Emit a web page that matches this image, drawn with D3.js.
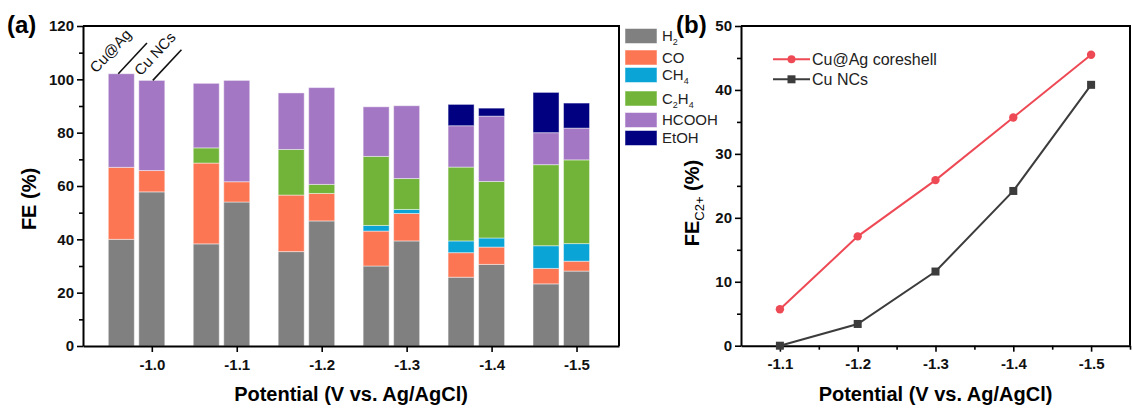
<!DOCTYPE html>
<html>
<head>
<meta charset="utf-8">
<script src="https://cdn.jsdelivr.net/npm/d3@7"></script>
<style>
  html, body { margin: 0; padding: 0; background: #fff; }
  svg { display: block; font-family: "Liberation Sans", Arial, sans-serif; }
  .bold { font-weight: bold; }
</style>
</head>
<body>
<svg id="chart" width="1133" height="408"></svg>
<script>
// ---- Panel (a): product distribution (FE %) per applied potential ----
const potentials = [-1.0, -1.1, -1.2, -1.3, -1.4, -1.5];
const products = ["H2", "CO", "CH4", "C2H4", "HCOOH", "EtOH"];
const samples = ["Cu@Ag", "Cu NCs"];

// Cu@Ag core-shell
const cuAgH2    = [40.0, 38.3, 35.4, 30.0, 25.8, 23.3];
const cuAgCO    = [27.0, 30.3, 21.2, 13.1,  9.2,  5.8];
const cuAgCH4   = [ 0.0,  0.0,  0.0,  2.1,  4.4,  8.5];
const cuAgC2H4  = [ 0.0,  5.7, 17.1, 25.9, 27.7, 30.4];
const cuAgHCOOH = [35.1, 24.2, 21.2, 18.6, 15.5, 12.0];
const cuAgEtOH  = [ 0.0,  0.0,  0.0,  0.0,  8.0, 15.1];

// Cu NCs
const cuH2    = [57.8, 54.0, 46.9, 39.4, 30.6, 28.1];
const cuCO    = [ 8.0,  7.6, 10.3, 10.3,  6.5,  3.7];
const cuCH4   = [ 0.0,  0.0,  0.0,  1.5,  3.4,  6.6];
const cuC2H4  = [ 0.0,  0.0,  3.4, 11.6, 21.2, 31.4];
const cuHCOOH = [33.8, 38.0, 36.3, 27.3, 24.5, 11.9];
const cuEtOH  = [ 0.0,  0.0,  0.0,  0.0,  3.0,  9.4];

const feTicks = [0, 20, 40, 60, 80, 100, 120];

// ---- Panel (b): C2+ Faradaic efficiency ----
const c2Potentials = [-1.1, -1.2, -1.3, -1.4, -1.5];
const cuAgC2 = [5.7, 17.1, 25.9, 35.7, 45.5];
const cuC2   = [0.0, 3.4, 11.6, 24.2, 40.8];
const c2Ticks = [0, 10, 20, 30, 40, 50];

// ---- styling ----
const productColors = {
  H2: "#808080", CO: "#FC7654", CH4: "#0AA4D6",
  C2H4: "#72B43A", HCOOH: "#A377C3", EtOH: "#000080"
};
const productLabels = {
  H2: [["H", 0], ["2", 1]],
  CO: [["CO", 0]],
  CH4: [["CH", 0], ["4", 1]],
  C2H4: [["C", 0], ["2", 1], ["H", 0], ["4", 1]],
  HCOOH: [["HCOOH", 0]],
  EtOH: [["EtOH", 0]]
};
const lineColors = { cuAg: "#EE4A55", cu: "#3C3C3C" };
const fmt1 = d => d.toFixed(1);

const svg = d3.select("#chart");

// build stacked rows
const cuAgSeries = { H2: cuAgH2, CO: cuAgCO, CH4: cuAgCH4, C2H4: cuAgC2H4, HCOOH: cuAgHCOOH, EtOH: cuAgEtOH };
const cuSeries   = { H2: cuH2, CO: cuCO, CH4: cuCH4, C2H4: cuC2H4, HCOOH: cuHCOOH, EtOH: cuEtOH };
const rows = [];
potentials.forEach((p, i) => {
  [[samples[0], cuAgSeries], [samples[1], cuSeries]].forEach(([s, ser]) => {
    const r = { potential: p, sample: s };
    products.forEach(k => r[k] = ser[k][i]);
    rows.push(r);
  });
});
const stacked = d3.stack().keys(products)(rows);

// ================= Panel (a) =================
const A = { left: 83, right: 619, top: 26, bottom: 346 };
const xA = d3.scaleLinear().domain([-0.919, -1.55]).range([A.left, A.right]);
const yA = d3.scaleLinear().domain([0, 120]).range([A.bottom, A.top]);
const barW = 26, pairOffset = 30.5;
const barX = d => xA(d.potential) - (d.sample === samples[0] ? pairOffset : 0) - barW / 2;

const gA = svg.append("g");
stacked.forEach(layer => {
  gA.append("g").selectAll("rect")
    .data(layer.filter(d => d[1] - d[0] > 0))
    .join("rect")
    .attr("x", d => barX(d.data))
    .attr("y", d => yA(d[1]))
    .attr("width", barW)
    .attr("height", d => yA(d[0]) - yA(d[1]))
    .attr("fill", productColors[layer.key])
    .attr("stroke", "#ffffff")
    .attr("stroke-opacity", 0.45)
    .attr("stroke-width", 1);
});

// axes (a)
const axA = gA.append("g").attr("transform", `translate(0,${A.bottom})`)
  .call(d3.axisBottom(xA).tickValues(potentials).tickFormat(fmt1).tickSize(6).tickSizeOuter(0).tickPadding(7));
const ayMinorA = gA.append("g").attr("transform", `translate(${A.left},0)`)
  .call(d3.axisLeft(yA).tickValues(d3.range(10, 120, 20)).tickSize(4).tickFormat(""));
const ayA = gA.append("g").attr("transform", `translate(${A.left},0)`)
  .call(d3.axisLeft(yA).tickValues(feTicks).tickSize(6).tickSizeOuter(0).tickPadding(3));
ayMinorA.select(".domain").remove();
[axA, ayA, ayMinorA].forEach(g => {
  g.selectAll(".domain").attr("stroke", "#000").attr("stroke-width", 2);
  g.selectAll(".tick line").attr("stroke", "#000").attr("stroke-width", 1.6);
  g.selectAll("text").attr("class", "bold").attr("font-size", 15).attr("fill", "#111")
    .attr("font-family", "'Liberation Sans', Arial, sans-serif");
});
// frame top / right
gA.append("path")
  .attr("d", `M${A.left},${A.top}H${A.right}V${A.bottom}`)
  .attr("fill", "none").attr("stroke", "#000").attr("stroke-width", 2);

// axis titles (a)
gA.append("text").attr("class", "bold").attr("font-size", 20)
  .attr("x", (A.left + A.right) / 2).attr("y", 401).attr("text-anchor", "middle")
  .text("Potential (V vs. Ag/AgCl)");
gA.append("text").attr("class", "bold").attr("font-size", 20)
  .attr("transform", `translate(36,199) rotate(-90)`).attr("text-anchor", "middle")
  .text("FE (%)");
svg.append("text").attr("class", "bold").attr("font-size", 24)
  .attr("x", 7).attr("y", 33).text("(a)");

// sample annotations above the first pair of bars: a slanted leader line
// rising from each bar top, with the sample name written parallel to it
const tagAngle = -47;
const tagTextOffset = { "Cu@Ag": [-25, 0], "Cu NCs": [-11, -4] };
const tagLineStart = { "Cu@Ag": -3, "Cu NCs": 1 };
const rad = tagAngle * Math.PI / 180;
rows.filter(r => r.potential === potentials[0]).forEach(r => {
  const total = d3.sum(products, k => r[k]);
  const cx = barX(r) + barW / 2;
  const cy = yA(total);
  const lx = cx + tagLineStart[r.sample];
  const len = 42;
  gA.append("line")
    .attr("x1", lx).attr("y1", cy)
    .attr("x2", lx + len * Math.cos(rad)).attr("y2", cy + len * Math.sin(rad))
    .attr("stroke", "#111").attr("stroke-width", 1.6);
  const [ox, oy] = tagTextOffset[r.sample];
  gA.append("text").attr("font-size", 15).attr("fill", "#111")
    .attr("transform", `translate(${cx + ox},${cy + oy}) rotate(${tagAngle})`)
    .text(r.sample);
});

// legend (a)
const legendRowsY = [28.5, 50, 67.5, 91, 112.5, 130.5];
const lg = svg.append("g").attr("transform", "translate(625,0)");
products.forEach((k, i) => {
  const y0 = legendRowsY[i];
  lg.append("rect").attr("x", 0).attr("y", y0).attr("width", 32).attr("height", 15)
    .attr("fill", productColors[k]).attr("stroke", "#fff").attr("stroke-opacity", 0.5);
  const t = lg.append("text").attr("x", 37).attr("y", y0 + 12.5).attr("font-size", 15).attr("fill", "#222");
  productLabels[k].forEach(([s, sub]) => {
    t.append("tspan").text(s)
      .attr("font-size", sub ? 9 : 15)
      .attr("dy", sub ? 4 : (t.selectAll("tspan").size() > 1 ? -4 : 0));
  });
});

// ================= Panel (b) =================
const B = { left: 741, right: 1130, top: 26, bottom: 345.7 };
const xB = d3.scaleLinear().domain([-1.05, -1.55]).range([B.left, B.right]);
const yB = d3.scaleLinear().domain([0, 50]).range([B.bottom, B.top]);
const gB = svg.append("g");

const axMinorB = gB.append("g").attr("transform", `translate(0,${B.bottom})`)
  .call(d3.axisBottom(xB).tickValues([-1.15, -1.25, -1.35, -1.45, -1.55]).tickSize(4).tickFormat(""));
const axB = gB.append("g").attr("transform", `translate(0,${B.bottom})`)
  .call(d3.axisBottom(xB).tickValues(c2Potentials).tickFormat(fmt1).tickSize(6).tickSizeOuter(0).tickPadding(7));
const ayMinorB = gB.append("g").attr("transform", `translate(${B.left},0)`)
  .call(d3.axisLeft(yB).tickValues(d3.range(5, 50, 10)).tickSize(4).tickFormat(""));
const ayB = gB.append("g").attr("transform", `translate(${B.left},0)`)
  .call(d3.axisLeft(yB).tickValues(c2Ticks).tickSize(6).tickSizeOuter(0).tickPadding(3));
axMinorB.select(".domain").remove();
ayMinorB.select(".domain").remove();
[axB, ayB, axMinorB, ayMinorB].forEach(g => {
  g.selectAll(".domain").attr("stroke", "#000").attr("stroke-width", 2);
  g.selectAll(".tick line").attr("stroke", "#000").attr("stroke-width", 1.6);
  g.selectAll("text").attr("class", "bold").attr("font-size", 15).attr("fill", "#111")
    .attr("font-family", "'Liberation Sans', Arial, sans-serif");
});
gB.append("path")
  .attr("d", `M${B.left},${B.top}H${B.right}V${B.bottom}`)
  .attr("fill", "none").attr("stroke", "#000").attr("stroke-width", 2);

const line = d3.line().x(d => xB(d[0])).y(d => yB(d[1]));
const seriesB = [
  { name: "Cu@Ag coreshell", vals: cuAgC2, color: lineColors.cuAg, marker: "circle" },
  { name: "Cu NCs", vals: cuC2, color: lineColors.cu, marker: "square" }
];
seriesB.forEach(s => {
  const pts = c2Potentials.map((p, i) => [p, s.vals[i]]);
  gB.append("path").datum(pts).attr("d", line)
    .attr("fill", "none").attr("stroke", s.color).attr("stroke-width", 2);
  const m = gB.append("g").selectAll("g").data(pts).join("g")
    .attr("transform", d => `translate(${xB(d[0])},${yB(d[1])})`);
  if (s.marker === "circle") m.append("circle").attr("r", 4.2).attr("fill", s.color);
  else m.append("rect").attr("x", -4).attr("y", -4).attr("width", 8).attr("height", 8).attr("fill", s.color);
});

// legend (b)
seriesB.forEach((s, i) => {
  const y0 = 59.3 + i * 20;
  const g = gB.append("g").attr("transform", `translate(773,${y0})`);
  g.append("line").attr("x1", 0).attr("x2", 37).attr("stroke", s.color).attr("stroke-width", 2);
  if (s.marker === "circle") g.append("circle").attr("cx", 18.5).attr("r", 4).attr("fill", s.color);
  else g.append("rect").attr("x", 14.5).attr("y", -4).attr("width", 8).attr("height", 8).attr("fill", s.color);
  g.append("text").attr("x", 39).attr("y", 5.5).attr("font-size", 16).attr("fill", "#222").text(s.name);
});

// titles (b)
gB.append("text").attr("class", "bold").attr("font-size", 20)
  .attr("x", (B.left + B.right) / 2).attr("y", 401).attr("text-anchor", "middle")
  .text("Potential (V vs. Ag/AgCl)");
const yt = gB.append("text").attr("class", "bold").attr("font-size", 20)
  .attr("transform", `translate(699,203) rotate(-90)`).attr("text-anchor", "middle");
yt.append("tspan").text("FE");
yt.append("tspan").text("C2+").attr("font-size", 13).attr("font-weight", "normal").attr("dy", 5);
yt.append("tspan").text(" (%)").attr("dy", -5);
svg.append("text").attr("class", "bold").attr("font-size", 24)
  .attr("x", 676).attr("y", 33).text("(b)");
</script>
</body>
</html>
